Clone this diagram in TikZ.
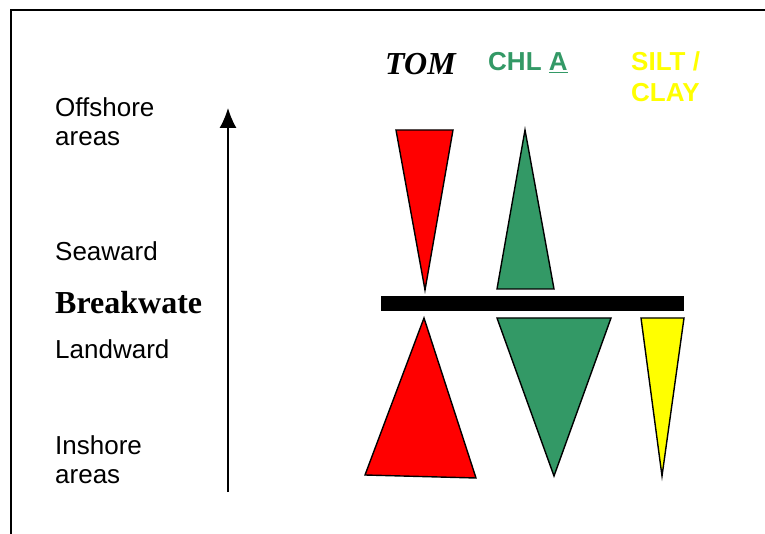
\documentclass[tikz,border=0pt]{standalone}
\usepackage{fontspec}
\setmainfont{Liberation Serif}
\setsansfont{Liberation Sans}
\usetikzlibrary{arrows.meta}
\definecolor{chlgreen}{RGB}{51,153,102}
\definecolor{siltyellow}{RGB}{255,255,0}
\tikzset{
  lbl/.style={anchor=base west, inner sep=0pt, font=\sffamily\fontsize{26}{31}\selectfont},
  head/.style={anchor=base west, inner sep=0pt, font=\sffamily\bfseries\fontsize{26}{31}\selectfont},
  serifhead/.style={anchor=base west, inner sep=0pt, font=\rmfamily\bfseries\fontsize{32}{38}\selectfont},
  tri/.style={draw=black, line width=1.4pt, line join=miter},
}
\begin{document}
\begin{tikzpicture}[x=1pt,y=-1pt]
\useasboundingbox (0,0) rectangle (765,534);
% frame
\draw[line width=1.5pt] (11,534) -- (11,10) -- (765,10);
% column headers
\node[serifhead, font=\rmfamily\bfseries\itshape\fontsize{32}{38}\selectfont] (tom) at (385,75) {TOM};
\node[head, text=chlgreen] (chl) at (488,71) {CHL \underline{A}};
\node[head, text=siltyellow] (silt1) at (631,71) {SILT /};
\node[head, text=siltyellow] (silt2) at (631,102) {CLAY};
% left labels
\node[lbl] (off1) at (55,117) {Offshore};
\node[lbl] (off2) at (55,146) {areas};
\node[lbl] (sea) at (55,261) {Seaward};
\node[serifhead] (bw) at (55,314) {Breakwate};
\node[lbl] (land) at (55,358) {Landward};
\node[lbl] (in1) at (55,454) {Inshore};
\node[lbl] (in2) at (55,483) {areas};
% arrow
\coordinate (abot) at (228,492);
\coordinate (atop) at (228,108);
\draw[line width=1.4pt, -{Latex[length=20pt,width=17pt]}] (abot) -- (atop);
% breakwater bar
\fill[black] (381,296) rectangle (684,311);
% triangles above
\draw[tri, fill=red] (396,130) -- (453,130) -- (425,290) -- cycle;
\draw[tri, fill=chlgreen] (497,289) -- (554,289) -- (525,130) -- cycle;
% triangles below
\draw[tri, fill=red] (424,318) -- (476,478) -- (365,475) -- cycle;
\draw[tri, fill=chlgreen] (497,318) -- (611,318) -- (554,476) -- cycle;
\draw[tri, fill=siltyellow] (641,318) -- (684,318) -- (662,476) -- cycle;
\end{tikzpicture}
\end{document}
